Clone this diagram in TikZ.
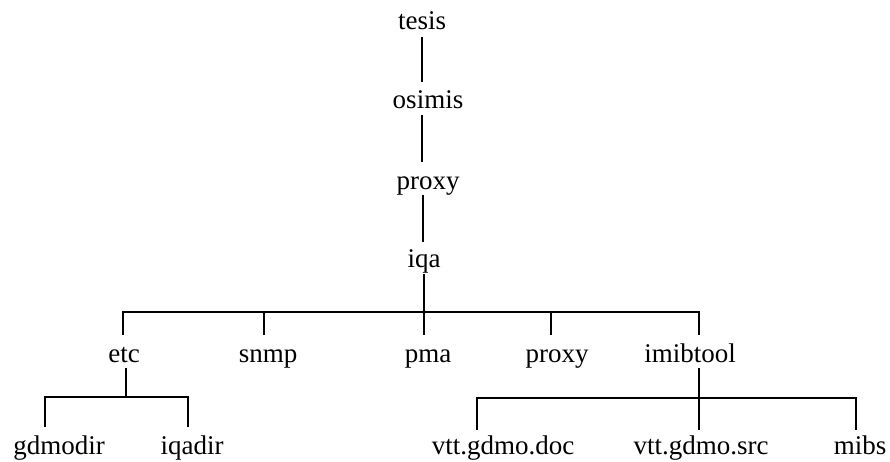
\documentclass[tikz,border=0pt]{standalone}
\usepackage{fontspec}
\setmainfont{Liberation Serif}
\begin{document}
\begin{tikzpicture}[x=1pt,y=-1pt,
  lbl/.style={anchor=base,inner sep=0pt,font=\fontsize{27}{31}\selectfont},
  conn/.style={line width=1.6pt,black}]
\useasboundingbox (0,0) rectangle (890,461);
\fill[white] (0,0) rectangle (890,461);
% nodes
\node[lbl] (tesis) at (422,29) {tesis};
\node[lbl] (osimis) at (428,108) {osimis};
\node[lbl] (proxyA) at (428,189) {proxy};
\node[lbl] (iqa) at (424,267) {iqa};
\node[lbl] (etc) at (124,362) {etc};
\node[lbl] (snmp) at (268,362) {snmp};
\node[lbl] (pma) at (428,362) {pma};
\node[lbl] (proxyB) at (557,362) {proxy};
\node[lbl] (imibtool) at (690,362) {imibtool};
\node[lbl] (gdmodir) at (59,454) {gdmodir};
\node[lbl] (iqadir) at (192,454) {iqadir};
\node[lbl] (doc) at (503,454) {vtt.gdmo.doc};
\node[lbl] (src) at (701,454) {vtt.gdmo.src};
\node[lbl] (mibs) at (860,454) {mibs};
% junction coordinates
\coordinate (c1) at (422,37);  \coordinate (c2) at (422,82);
\coordinate (c3) at (422,115); \coordinate (c4) at (422,162);
\coordinate (c5) at (423,195); \coordinate (c6) at (423,242);
\coordinate (c7) at (424,274); \coordinate (c8) at (424,335);
\coordinate (barL) at (123,312); \coordinate (barR) at (699,312);
\coordinate (etcT) at (123,335); \coordinate (snmpT) at (264,335);
\coordinate (proxyT) at (551,335); \coordinate (imibT) at (699,335);
\coordinate (e1) at (126,368); \coordinate (e2) at (126,397);
\coordinate (ebL) at (45,397); \coordinate (ebR) at (188,397);
\coordinate (gT) at (45,427); \coordinate (iT) at (188,427);
\coordinate (m1) at (699,368); \coordinate (m2) at (699,430);
\coordinate (mbL) at (477,398); \coordinate (mbR) at (856,398);
\coordinate (dT) at (477,430); \coordinate (mT) at (856,430);
% connectors
\draw[conn] (c1) -- (c2);
\draw[conn] (c3) -- (c4);
\draw[conn] (c5) -- (c6);
\draw[conn] (c7) -- (c8);
\draw[conn] (etcT) -- (barL) -- (barR) -- (imibT);
\draw[conn] (snmpT) -- (snmpT |- barL);
\draw[conn] (proxyT) -- (proxyT |- barL);
\draw[conn] (e1) -- (e2);
\draw[conn] (gT) -- (ebL) -- (ebR) -- (iT);
\draw[conn] (m1) -- (m2);
\draw[conn] (dT) -- (mbL) -- (mbR) -- (mT);
\end{tikzpicture}
\end{document}
